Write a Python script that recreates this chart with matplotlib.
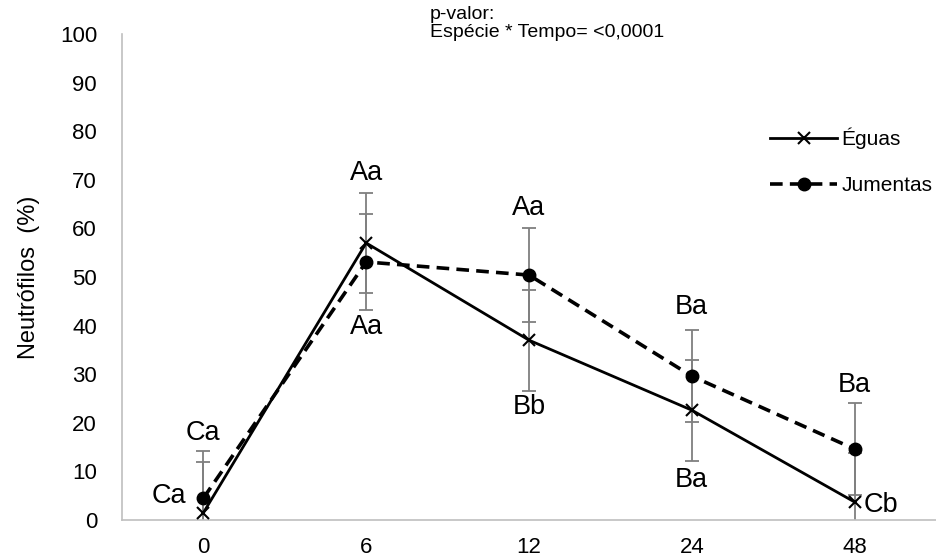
import matplotlib.pyplot as plt

plt.rcParams['font.family'] = ['Liberation Sans', 'DejaVu Sans']

# dados
tempos = ["0", "6", "12", "24", "48"]
eguas = [1.5, 57.0, 37.0, 22.6, 3.7]
eguas_err = [10.5, 10.3, 10.4, 10.4, 10.0]
jumentas = [4.5, 53.1, 50.4, 29.6, 14.6]
jumentas_err = [9.7, 9.8, 9.7, 9.5, 9.5]

# letras de significancia (texto, categoria, y, deslocamento x)
letras = [("Ca", 0, 17.9, 0.0), ("Ca", 0, 4.9, -0.21),
          ("Aa", 1, 71.4, 0.0), ("Aa", 1, 39.7, 0.0),
          ("Aa", 2, 64.2, 0.0), ("Bb", 2, 23.3, 0.0),
          ("Ba", 3, 43.8, 0.0), ("Ba", 3, 8.2, 0.0),
          ("Ba", 4, 27.8, 0.0), ("Cb", 4, 3.1, 0.16)]

x = list(range(len(tempos)))

fig = plt.figure(figsize=(9.36, 5.58), dpi=100)
ax = fig.add_axes([122/936, 38/558, 814/936, 486/558])

ax.errorbar(x, eguas, yerr=eguas_err, fmt="none", ecolor="#7f7f7f",
            elinewidth=1.3, capsize=5, capthick=1.3, zorder=1)
ax.errorbar(x, jumentas, yerr=jumentas_err, fmt="none", ecolor="#7f7f7f",
            elinewidth=1.3, capsize=5, capthick=1.3, zorder=1)

ax.plot(x, eguas, color="black", lw=2, marker="x", markersize=9,
        markeredgewidth=1.5, label="Éguas", zorder=3)
ax.plot(x, jumentas, color="black", lw=2.6, ls=(0, (3.5, 2)), marker="o",
        markersize=9, label="Jumentas", zorder=3)

for txt, c, yy, dx in letras:
    ax.text(c + dx, yy, txt, fontsize=19.5, ha="center", va="center", zorder=4)

ax.set_xlim(-0.5, 4.5)
ax.set_ylim(0, 100)
ax.set_xticks(x)
ax.set_xticklabels(tempos)
ax.set_yticks(range(0, 101, 10))
ax.tick_params(axis="both", length=0, labelsize=16)
ax.tick_params(axis="x", pad=12)
ax.tick_params(axis="y", pad=18)

for s in ["top", "right"]:
    ax.spines[s].set_visible(False)
for s in ["left", "bottom"]:
    ax.spines[s].set_color("#bfbfbf")
    ax.spines[s].set_linewidth(1.2)

ax.set_ylabel("Neutrófilos  (%)", fontsize=17, labelpad=14)

ax.legend(loc="upper left", bbox_to_anchor=(762/936, 1 - 119/558),
          bbox_transform=fig.transFigure, frameon=False, fontsize=15,
          handlelength=3.2, labelspacing=1.3, handletextpad=0.2,
          borderaxespad=0)

fig.text(430/936, 1 - 6/558, "p-valor:\nEspécie * Tempo= <0,0001",
         fontsize=14, ha="left", va="top", linespacing=1.05)

fig.savefig("out.png", dpi=100)
